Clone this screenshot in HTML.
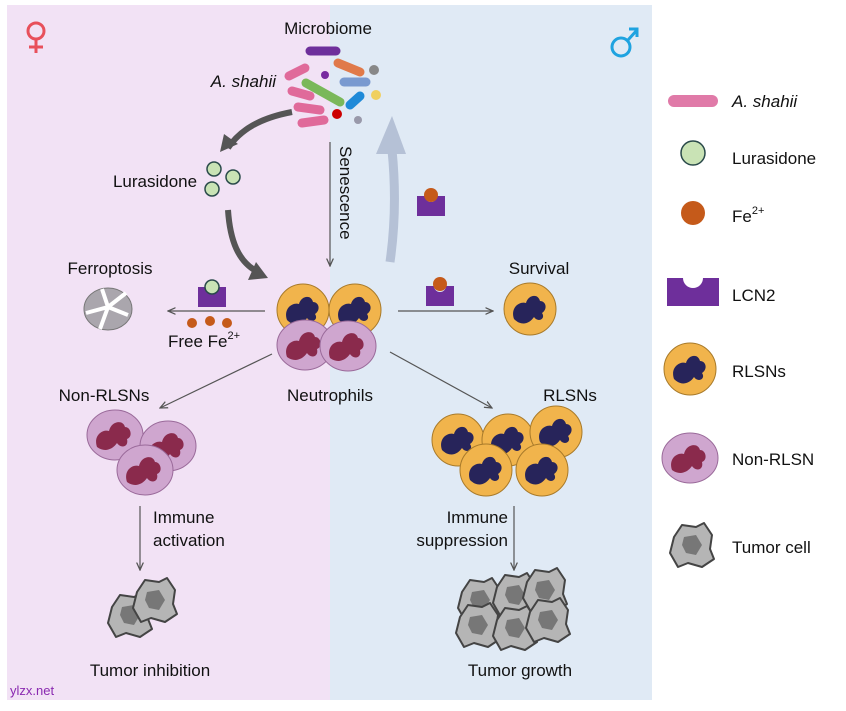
<!DOCTYPE html>
<html><head><meta charset="utf-8"><style>
body{margin:0;background:#fff}
text{font-family:"Liberation Sans",sans-serif;fill:#111}
</style></head><body>
<svg width="846" height="706" viewBox="0 0 846 706" xmlns="http://www.w3.org/2000/svg">
<defs>
<g id="r">
<circle r="26" fill="#f1b44c" stroke="#a87a2a" stroke-width="1"/>
<path d="M-16,10 C-20,-2 -10,-8 -4,-6 C-2,-14 8,-16 10,-8 C16,-8 18,0 12,4 C16,10 8,14 4,8 C0,14 -8,18 -16,10Z" fill="#27245a"/>
</g>
<g id="n">
<ellipse rx="28" ry="25" fill="#cfa6cf" stroke="#9a6a9a" stroke-width="1"/>
<path d="M-18,12 C-22,0 -12,-6 -6,-4 C-4,-14 8,-16 10,-8 C16,-8 18,2 12,4 C14,12 6,14 2,8 C-2,14 -10,18 -18,12Z" fill="#8a2a4c"/>
</g>
<g id="t">
<path d="M-18,-8 L-10,-20 L4,-18 L12,-22 L20,-10 L18,4 L22,14 L10,22 L-4,18 L-14,22 L-22,8 Z" fill="#b5b5b5" stroke="#444" stroke-width="2" stroke-linejoin="round"/>
<path d="M-8,-8 L4,-10 L10,0 L4,10 L-6,8 L-10,0Z" fill="#777"/>
</g>
<g id="l"><path d="M-14,-10 h8 a6,6 0 0 0 12,0 h8 v20 h-28z" fill="#6e2f9b"/></g>
<marker id="a" viewBox="0 0 10 10" refX="9" refY="5" markerWidth="7" markerHeight="7" orient="auto"><path d="M0,1 L9,5 L0,9" fill="none" stroke="#555" stroke-width="1.5"/></marker>
</defs>
<rect x="7" y="5" width="323" height="695" fill="#f2e2f5"/>
<rect x="330" y="5" width="322" height="695" fill="#e0eaf5"/>
<g fill="none" stroke="#e8505b" stroke-width="3"><circle cx="36" cy="31" r="8"/><path d="M36,39 V53 M29,47 H43"/></g>
<g fill="none" stroke="#1fa3e0" stroke-width="3"><circle cx="621" cy="47" r="9"/><path d="M628,40 L637,30 M629,29 H637 V37"/></g>
<text x="328" y="34" font-size="17" text-anchor="middle">Microbiome</text>
<text x="276" y="87" font-size="17" text-anchor="end" font-style="italic">A. shahii</text>
<!-- bacteria -->
<g stroke-linecap="round" stroke-width="9">
<line x1="310" y1="51" x2="336" y2="51" stroke="#6e2f9b"/>
<line x1="338" y1="63" x2="360" y2="72" stroke="#e07a4a"/>
<line x1="289" y1="76" x2="305" y2="68" stroke="#e06a9a"/>
<line x1="344" y1="82" x2="366" y2="82" stroke="#7a9ad0"/>
<line x1="306" y1="83" x2="340" y2="102" stroke="#7ab85a"/>
<line x1="292" y1="91" x2="310" y2="96" stroke="#e06a9a"/>
<line x1="298" y1="107" x2="320" y2="110" stroke="#e06a9a"/>
<line x1="302" y1="123" x2="324" y2="120" stroke="#e06a9a"/>
<line x1="350" y1="105" x2="360" y2="96" stroke="#1f8ad8"/>
</g>
<circle cx="325" cy="75" r="4" fill="#7a2aa0"/><circle cx="374" cy="70" r="5" fill="#888"/>
<circle cx="376" cy="95" r="5" fill="#f0d060"/><circle cx="337" cy="114" r="5" fill="#c00"/>
<circle cx="358" cy="120" r="4" fill="#99a"/>
<!-- big arrows -->
<path d="M292,112 C260,118 240,130 228,148" fill="none" stroke="#555" stroke-width="6"/>
<path d="M220,152 L224,134 L238,144Z" fill="#555"/>
<path d="M228,210 C230,240 238,262 258,272" fill="none" stroke="#555" stroke-width="6"/>
<path d="M268,278 L248,280 L256,262Z" fill="#555"/>
<path d="M390,262 C396,220 395,180 392,150" fill="none" stroke="#b5c1d6" stroke-width="9"/>
<path d="M392,116 L376,154 L406,154Z" fill="#b5c1d6"/>
<line x1="330" y1="142" x2="330" y2="266" stroke="#555" stroke-width="1.2" marker-end="url(#a)"/>
<text transform="translate(340,146) rotate(90)" font-size="17">Senescence</text>
<text x="155" y="187" font-size="17" text-anchor="middle">Lurasidone</text>
<g fill="#c9e3b5" stroke="#2a4a4a" stroke-width="1.5"><circle cx="214" cy="169" r="7"/><circle cx="233" cy="177" r="7"/><circle cx="212" cy="189" r="7"/></g>
<use href="#l" x="431" y="206"/><circle cx="431" cy="195" r="7" fill="#c55a1a"/>
<text x="110" y="274" font-size="17" text-anchor="middle">Ferroptosis</text>
<g transform="translate(108,309)"><ellipse rx="24" ry="21" fill="#aaa6ad" stroke="#777"/><path d="M-22,4 L0,-2 L18,-16 M0,-2 L20,6 M0,-2 L-8,20 M-6,-20 L0,-2" stroke="#fff" stroke-width="4" fill="none"/></g>
<use href="#l" x="212" y="297"/><circle cx="212" cy="287" r="7" fill="#c9e3b5" stroke="#2a4a4a" stroke-width="1.5"/>
<line x1="265" y1="311" x2="168" y2="311" stroke="#555" stroke-width="1.2" marker-end="url(#a)"/>
<g fill="#c55a1a"><circle cx="192" cy="323" r="5"/><circle cx="210" cy="321" r="5"/><circle cx="227" cy="323" r="5"/></g>
<text x="168" y="347" font-size="17">Free Fe<tspan font-size="11" dy="-8">2+</tspan></text>
<use href="#l" x="440" y="296"/><circle cx="440" cy="284" r="7" fill="#c55a1a"/>
<line x1="398" y1="311" x2="493" y2="311" stroke="#555" stroke-width="1.2" marker-end="url(#a)"/>
<text x="539" y="274" font-size="17" text-anchor="middle">Survival</text>
<use href="#r" x="530" y="309"/>
<use href="#r" x="303" y="310"/><use href="#r" x="355" y="310"/>
<use href="#n" x="305" y="345"/><use href="#n" x="348" y="346"/>
<text x="330" y="401" font-size="17" text-anchor="middle">Neutrophils</text>
<line x1="272" y1="354" x2="160" y2="408" stroke="#555" stroke-width="1.2" marker-end="url(#a)"/>
<line x1="390" y1="352" x2="492" y2="408" stroke="#555" stroke-width="1.2" marker-end="url(#a)"/>
<text x="104" y="401" font-size="17" text-anchor="middle">Non-RLSNs</text>
<text x="570" y="401" font-size="17" text-anchor="middle">RLSNs</text>
<use href="#n" x="115" y="435"/><use href="#n" x="168" y="446"/><use href="#n" x="145" y="470"/>
<use href="#r" x="458" y="440"/><use href="#r" x="508" y="440"/><use href="#r" x="556" y="432"/>
<use href="#r" x="486" y="470"/><use href="#r" x="542" y="470"/>
<line x1="140" y1="506" x2="140" y2="570" stroke="#555" stroke-width="1.2" marker-end="url(#a)"/>
<text x="153" y="523" font-size="17">Immune</text><text x="153" y="546" font-size="17">activation</text>
<line x1="514" y1="506" x2="514" y2="570" stroke="#555" stroke-width="1.2" marker-end="url(#a)"/>
<text x="508" y="523" font-size="17" text-anchor="end">Immune</text><text x="508" y="546" font-size="17" text-anchor="end">suppression</text>
<use href="#t" x="130" y="615"/><use href="#t" x="155" y="600"/>
<use href="#t" x="480" y="600"/><use href="#t" x="515" y="595"/><use href="#t" x="545" y="590"/>
<use href="#t" x="478" y="625"/><use href="#t" x="515" y="628"/><use href="#t" x="548" y="620"/>
<text x="150" y="676" font-size="17" text-anchor="middle">Tumor inhibition</text>
<text x="520" y="676" font-size="17" text-anchor="middle">Tumor growth</text>
<text x="10" y="695" font-size="13" style="fill:#8a2ab0">ylzx.net</text>
<!-- legend -->
<line x1="674" y1="101" x2="712" y2="101" stroke="#e07aa8" stroke-width="12" stroke-linecap="round"/>
<text x="732" y="107" font-size="17" font-style="italic">A. shahii</text>
<circle cx="693" cy="153" r="12" fill="#c9e3b5" stroke="#2a4a4a" stroke-width="1.5"/>
<text x="732" y="164" font-size="17">Lurasidone</text>
<circle cx="693" cy="213" r="12" fill="#c55a1a"/>
<text x="732" y="222" font-size="17">Fe<tspan font-size="11" dy="-8">2+</tspan></text>
<path d="M667,278 h16 a10,10 0 0 0 20,0 h16 v28 h-52z" fill="#6e2f9b"/>
<text x="732" y="301" font-size="17">LCN2</text>
<use href="#r" x="690" y="369"/>
<text x="732" y="377" font-size="17">RLSNs</text>
<use href="#n" x="690" y="458"/>
<text x="732" y="465" font-size="17">Non-RLSN</text>
<use href="#t" x="692" y="545"/>
<text x="732" y="553" font-size="17">Tumor cell</text>
</svg>
</body></html>
